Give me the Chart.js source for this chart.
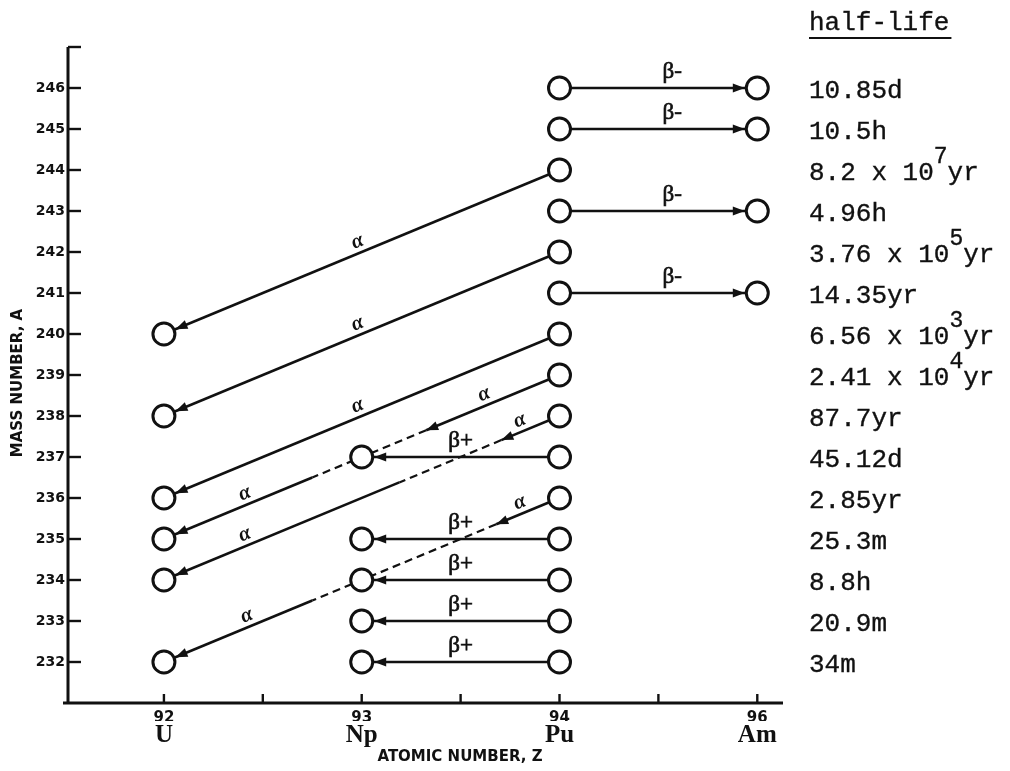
<!DOCTYPE html>
<html><head><meta charset="utf-8">
<script src="https://cdn.jsdelivr.net/npm/chart.js@4.4.1/dist/chart.umd.min.js"></script>
<style>html,body{margin:0;padding:0;background:#fff;}</style>
</head><body>
<canvas id="c" width="1010" height="771"></canvas>
<script>
// ---------------- data ----------------
const elementSymbols = ['U', 'Np', 'Pu', 'Am'];
const elementZ = [92, 93, 94, 95];
const zTickLabels = ['92', '93', '94', '96'];
const xTickValues = [92, 92.5, 93, 93.5, 94, 94.5, 95];
const yTickValues = [232, 233, 234, 235, 236, 237, 238, 239, 240, 241, 242, 243, 244, 245, 246, 247];

const uMasses = [232, 234, 235, 236, 238, 240];
const npMasses = [232, 233, 234, 235, 237];
const puMasses = [232, 233, 234, 235, 236, 237, 238, 239, 240, 241, 242, 243, 244, 245, 246];
const amMasses = [241, 243, 245, 246];

const alphaFrom = [244, 242, 240, 239, 238, 236];   // Pu mass
const alphaTo = [240, 238, 236, 235, 234, 232];     // U mass
const betaMinusMasses = [246, 245, 243, 241];       // Pu -> Am
const betaPlusMasses = [237, 235, 234, 233, 232];   // Pu -> Np

const halfLifeMasses = [246, 245, 244, 243, 242, 241, 240, 239, 238, 237, 236, 235, 234, 233, 232];
const halfLives = ['10.85d', '10.5h', '8.2 x 10^7yr', '4.96h', '3.76 x 10^5yr', '14.35yr',
  '6.56 x 10^3yr', '2.41 x 10^4yr', '87.7yr', '45.12d', '2.85yr', '25.3m', '8.8h', '20.9m', '34m'];

// ---------------- styles ----------------
const INK = '#111';
const alphaStyle = {
  244: { labels: [0.5] },
  242: { labels: [0.5] },
  240: { labels: [0.5] },
  239: { dash: [0.337, 0.625], labels: [0.18, 0.785] },
  238: { dash: [0.147, 0.405], labels: [0.09, 0.785] },
  236: { dash: [0.16, 0.625], labels: [0.09, 0.78] }
};
const R_TIP = 12.5;

const points = [];
uMasses.forEach(a => points.push({ x: elementZ[0], y: a }));
npMasses.forEach(a => points.push({ x: elementZ[1], y: a }));
puMasses.forEach(a => points.push({ x: elementZ[2], y: a }));
amMasses.forEach(a => points.push({ x: elementZ[3], y: a }));

function arrowHead(ctx, tx, ty, ux, uy) {
  const L = 12, W = 4.6;
  ctx.beginPath();
  ctx.moveTo(tx, ty);
  ctx.lineTo(tx - ux * L - uy * W, ty - uy * L + ux * W);
  ctx.lineTo(tx - ux * L + uy * W, ty - uy * L - ux * W);
  ctx.closePath();
  ctx.fill();
}
function seg(ctx, a, b, t0, t1, dash) {
  ctx.setLineDash(dash || []);
  ctx.beginPath();
  ctx.moveTo(a.x + (b.x - a.x) * t0, a.y + (b.y - a.y) * t0);
  ctx.lineTo(a.x + (b.x - a.x) * t1, a.y + (b.y - a.y) * t1);
  ctx.stroke();
  ctx.setLineDash([]);
}
function arrowFull(ctx, a, b) {
  const dx = b.x - a.x, dy = b.y - a.y, d = Math.hypot(dx, dy);
  const ux = dx / d, uy = dy / d;
  seg(ctx, a, b, 0, 1);
  arrowHead(ctx, b.x - ux * R_TIP, b.y - uy * R_TIP, ux, uy);
}
function heavyText(ctx, s, x, y, sw) {
  ctx.fillText(s, x, y);
  ctx.lineWidth = sw; ctx.strokeText(s, x, y);
}

const decayPlugin = {
  id: 'decays',
  beforeDatasetsDraw(chart) {
    const ctx = chart.ctx, xs = chart.scales.x, ys = chart.scales.y, ca = chart.chartArea;
    const P = (z, a) => ({ x: xs.getPixelForValue(z), y: ys.getPixelForValue(a) });
    ctx.save();
    ctx.strokeStyle = INK; ctx.fillStyle = INK; ctx.lineCap = 'butt';
    ctx.lineWidth = 3;
    ctx.beginPath(); ctx.moveTo(ca.left, ca.top); ctx.lineTo(ca.left, ca.bottom); ctx.stroke();
    ctx.beginPath(); ctx.moveTo(ca.left - 5, ca.bottom); ctx.lineTo(ca.right, ca.bottom); ctx.stroke();
    ctx.lineWidth = 2.4;
    yTickValues.forEach(v => {
      const y = ys.getPixelForValue(v);
      ctx.beginPath(); ctx.moveTo(ca.left, y); ctx.lineTo(ca.left + 13, y); ctx.stroke();
    });
    xTickValues.forEach(v => {
      const x = xs.getPixelForValue(v);
      ctx.beginPath(); ctx.moveTo(x, ca.bottom); ctx.lineTo(x, ca.bottom - 9); ctx.stroke();
    });
    ctx.lineWidth = 2.5;
    betaMinusMasses.forEach(a => arrowFull(ctx, P(elementZ[2], a), P(elementZ[3], a)));
    betaPlusMasses.forEach(a => arrowFull(ctx, P(elementZ[2], a), P(elementZ[1], a)));
    alphaFrom.forEach((a, i) => {
      const p0 = P(elementZ[2], a), p1 = P(elementZ[0], alphaTo[i]);
      const st = alphaStyle[a];
      if (!st.dash) { arrowFull(ctx, p0, p1); return; }
      const dx = p1.x - p0.x, dy = p1.y - p0.y, d = Math.hypot(dx, dy), ux = dx / d, uy = dy / d;
      const [t1, t2] = st.dash;
      seg(ctx, p0, p1, 0, t1);
      ctx.lineWidth = 2.2;
      seg(ctx, p0, p1, t1, t2, [8, 5]);
      ctx.lineWidth = 2.5;
      seg(ctx, p0, p1, t2, 1);
      arrowHead(ctx, p0.x + dx * t1, p0.y + dy * t1, ux, uy);
      arrowHead(ctx, p1.x - ux * R_TIP, p1.y - uy * R_TIP, ux, uy);
    });
    ctx.restore();
  },
  afterDatasetsDraw(chart) {
    const ctx = chart.ctx, xs = chart.scales.x, ys = chart.scales.y;
    const P = (z, a) => ({ x: xs.getPixelForValue(z), y: ys.getPixelForValue(a) });
    ctx.save();
    ctx.fillStyle = INK; ctx.strokeStyle = INK;
    ctx.textAlign = 'center'; ctx.textBaseline = 'middle';
    ctx.font = '23px "Liberation Serif"';
    betaMinusMasses.forEach(a => {
      const p0 = P(elementZ[2], a), p1 = P(elementZ[3], a);
      heavyText(ctx, 'β-', p0.x + (p1.x - p0.x) * 0.57, p0.y - 16, 0.7);
    });
    betaPlusMasses.forEach(a => {
      const p0 = P(elementZ[2], a), p1 = P(elementZ[1], a);
      heavyText(ctx, 'β+', p0.x + (p1.x - p0.x) * 0.5, p0.y - 16, 0.7);
    });
    ctx.font = 'italic bold 21px "Liberation Serif"';
    alphaFrom.forEach((a, i) => {
      const p0 = P(elementZ[2], a), p1 = P(elementZ[0], alphaTo[i]);
      const ang = Math.atan2(p0.y - p1.y, p0.x - p1.x);
      const nx = Math.sin(ang), ny = -Math.cos(ang);
      alphaStyle[a].labels.forEach(t => {
        const x = p0.x + (p1.x - p0.x) * t + nx * 11, y = p0.y + (p1.y - p0.y) * t + ny * 11;
        ctx.save(); ctx.translate(x, y); ctx.rotate(ang); ctx.fillText('α', 0, 0); ctx.restore();
      });
    });
    ctx.restore();
  },
  afterDraw(chart) {
    const ctx = chart.ctx, ys = chart.scales.y;
    ctx.save();
    ctx.fillStyle = INK; ctx.strokeStyle = INK;
    ctx.font = 'bold 15px "DejaVu Sans"';
    ctx.textAlign = 'center'; ctx.textBaseline = 'middle';
    ctx.fillText('ATOMIC NUMBER, Z', 460, 757);
    ctx.save(); ctx.translate(18, 383); ctx.rotate(-Math.PI / 2);
    ctx.fillText('MASS NUMBER, A', 0, 0); ctx.restore();
    const X0 = 809;
    ctx.textAlign = 'left'; ctx.textBaseline = 'alphabetic';
    ctx.font = '26px "Liberation Mono"';
    heavyText(ctx, 'half-life', X0, 30, 0.35);
    ctx.lineWidth = 2;
    ctx.beginPath(); ctx.moveTo(X0, 38); ctx.lineTo(X0 + ctx.measureText('half-life').width + 2, 38); ctx.stroke();
    halfLives.forEach((s, i) => {
      const base = ys.getPixelForValue(halfLifeMasses[i]) + 10;
      const m = s.match(/^(.*)\^(\d+)(.*)$/);
      ctx.font = '26px "Liberation Mono"';
      if (!m) { heavyText(ctx, s, X0, base, 0.35); return; }
      heavyText(ctx, m[1], X0, base, 0.35);
      let w = ctx.measureText(m[1]).width;
      ctx.font = '23px "Liberation Mono"';
      heavyText(ctx, m[2], X0 + w, base - 17, 0.35);
      w += ctx.measureText(m[2]).width;
      ctx.font = '26px "Liberation Mono"';
      heavyText(ctx, m[3], X0 + w, base, 0.35);
    });
    ctx.restore();
  }
};

new Chart(document.getElementById('c'), {
  type: 'scatter',
  data: {
    datasets: [{
      data: points,
      pointRadius: 11, pointHoverRadius: 11, pointBorderWidth: 3, borderWidth: 3,
      borderColor: INK, backgroundColor: '#fff', pointStyle: 'circle'
    }]
  },
  options: {
    responsive: false, animation: false, events: [],
    layout: { padding: { left: 0, right: 227, top: 47, bottom: 20 } },
    plugins: { legend: { display: false }, tooltip: { enabled: false } },
    scales: {
      x: {
        type: 'linear', position: 'bottom', weight: 0, min: 91.515, max: 95.13,
        afterBuildTicks: s => { s.ticks = xTickValues.map(v => ({ value: v })); },
        afterFit: s => { s.height = 18; },
        grid: { display: false, drawTicks: false }, border: { display: false },
        ticks: {
          autoSkip: false, maxRotation: 0, padding: 6, color: INK,
          font: { family: 'DejaVu Sans', weight: 'bold', size: 15 },
          callback: v => { const i = elementZ.indexOf(v); return i >= 0 ? zTickLabels[i] : ''; }
        }
      },
      xs: {
        type: 'linear', position: 'bottom', weight: 1, min: 91.515, max: 95.13,
        afterBuildTicks: s => { s.ticks = elementZ.map(v => ({ value: v })); },
        afterFit: s => { s.height = 30; },
        grid: { display: false, drawTicks: false }, border: { display: false },
        ticks: {
          autoSkip: false, maxRotation: 0, padding: 0, color: INK,
          font: { family: 'Liberation Serif', weight: 'bold', size: 25 },
          callback: v => { const i = elementZ.indexOf(v); return i >= 0 ? elementSymbols[i] : ''; }
        }
      },
      y: {
        type: 'linear', position: 'left', min: 231, max: 247,
        afterBuildTicks: s => { s.ticks = yTickValues.map(v => ({ value: v })); },
        afterFit: s => { s.width = 68; },
        grid: { display: false, drawTicks: false }, border: { display: false },
        ticks: {
          autoSkip: false, padding: 3, color: INK,
          font: { family: 'DejaVu Sans', weight: 'bold', size: 14 },
          callback: v => (v === 247 ? '' : String(v))
        }
      }
    }
  },
  plugins: [decayPlugin]
});
</script>
</body></html>
